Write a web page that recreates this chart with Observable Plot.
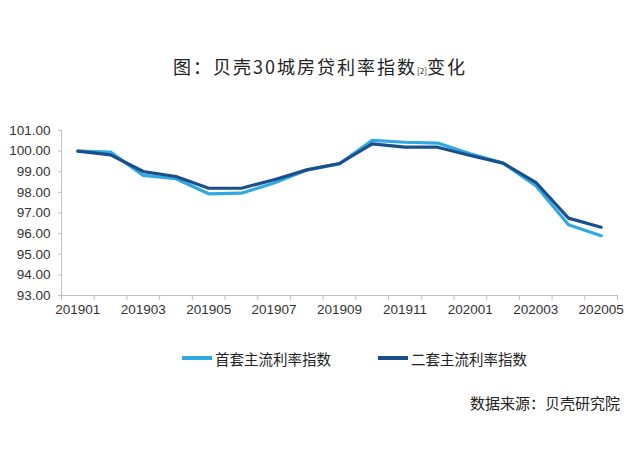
<!DOCTYPE html>
<html>
<head>
<meta charset="utf-8">
<script src="https://cdn.jsdelivr.net/npm/d3@7"></script>
<script src="https://cdn.jsdelivr.net/npm/@observablehq/plot@0.6"></script>
<style>
  html, body { margin: 0; padding: 0; background: #fff; }
  body { width: 640px; height: 469px; overflow: hidden; font-family: "Noto Sans CJK SC", "Liberation Sans", sans-serif; color: #222; }
  #title { height: 100px; box-sizing: border-box; padding-top: 54px; text-align: center; font-size: 18px; letter-spacing: 2px; line-height: 24px; color: #222; }
  #title sub { font-size: 8px; letter-spacing: 0; vertical-align: 0; }
  #chart { height: 225px; }
  #legend { position: relative; height: 66px; font-size: 14.5px; }
  .item { position: absolute; top: 22px; display: flex; align-items: center; height: 22px; }
  .sw { width: 30px; height: 3.5px; margin-right: 3px; }
  #source { position: absolute; right: 20px; top: 392px; font-size: 15px; color: #222; }
</style>
</head>
<body>
<div id="title">图：贝壳30城房贷利率指数<sub>[2]</sub>变化</div>
<div id="chart"></div>
<div id="legend"></div>
<div id="source">数据来源：贝壳研究院</div>
<script>
const months = ["201901","201902","201903","201904","201905","201906","201907","201908","201909","201910","201911","201912","202001","202002","202003","202004","202005"];
const firstHome  = [100.00, 99.95, 98.82, 98.66, 97.93, 97.96, 98.45, 99.09, 99.38, 100.52, 100.43, 100.39, 99.87, 99.42, 98.33, 96.43, 95.90];
const secondHome = [100.00, 99.82, 99.01, 98.77, 98.20, 98.20, 98.61, 99.09, 99.40, 100.35, 100.19, 100.19, 99.79, 99.42, 98.49, 96.75, 96.31];
const seriesNames = ["首套主流利率指数", "二套主流利率指数"];
const seriesColors = ["#2fa9e1", "#1b4f8c"];
const yTicks = [93, 94, 95, 96, 97, 98, 99, 100, 101];

const rows = [];
months.forEach((m, i) => {
  rows.push({i: i + 1, month: m, value: firstHome[i], series: seriesNames[0]});
  rows.push({i: i + 1, month: m, value: secondHome[i], series: seriesNames[1]});
});
const boundaries = d3.range(0.5, months.length + 1, 1);
const labelIdx = months.map((m, i) => i + 1).filter(i => i % 2 === 1);

const plot = Plot.plot({
  width: 640,
  height: 225,
  marginLeft: 61,
  marginRight: 23,
  marginTop: 30,
  marginBottom: 30,
  style: {fontFamily: "'Liberation Sans', Arial, sans-serif", fontSize: "13.5px", color: "#333", background: "#fff"},
  x: {type: "linear", domain: [0.5, months.length + 0.5]},
  y: {domain: [93, 101]},
  color: {domain: seriesNames, range: seriesColors},
  marks: [
    Plot.ruleY([93], {stroke: "#bfbfbf", strokeWidth: 1}),
    Plot.ruleX([0.5], {y1: 93, y2: 101, stroke: "#bfbfbf", strokeWidth: 1}),
    Plot.axisX({ticks: boundaries, tickSize: 5, tickFormat: () => "", stroke: "#bfbfbf", label: null}),
    Plot.axisX({ticks: labelIdx, tickSize: 0, tickPadding: 9, tickFormat: i => months[i - 1], label: null, fill: "#333"}),
    Plot.axisY({ticks: yTicks, tickSize: 3, tickPadding: 8, tickFormat: d => d.toFixed(2), stroke: "#bfbfbf", label: null, fill: "#333"}),
    Plot.line(rows, {x: "i", y: "value", z: "series", stroke: "series", strokeWidth: 3.2, strokeLinejoin: "round", strokeLinecap: "round"})
  ]
});
document.getElementById("chart").appendChild(plot);

const legend = document.getElementById("legend");
const lx = [182, 378];
seriesNames.forEach((name, k) => {
  const it = document.createElement("div");
  it.className = "item";
  it.style.left = lx[k] + "px";
  const sw = document.createElement("div");
  sw.className = "sw";
  sw.style.background = seriesColors[k];
  const tx = document.createElement("span");
  tx.textContent = name;
  it.appendChild(sw);
  it.appendChild(tx);
  legend.appendChild(it);
});
</script>
</body>
</html>
